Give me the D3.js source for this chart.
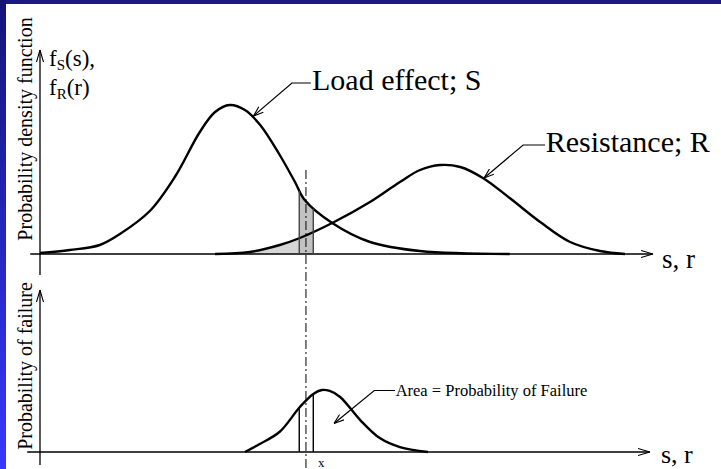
<!DOCTYPE html>
<html>
<head>
<meta charset="utf-8">
<script src="https://cdn.jsdelivr.net/npm/d3@7"></script>
<style>
  body { margin: 0; background: #fff; }
  svg { display: block; font-family: "Liberation Serif", "DejaVu Serif", serif; }
</style>
</head>
<body>
<svg id="container" width="721" height="469"></svg>
<script>
// data. x in s,r units (0-100), densities in 0-1
var loadX = [0, 4.9, 9.8, 13.1, 18.0, 22.1, 26.2, 28.7, 31.1, 33.6, 36.1, 39.3, 41.8, 43.4, 47.9, 54.1, 62.3, 77.0];
var loadY = [0.005, 0.02, 0.045, 0.10, 0.215, 0.385, 0.61, 0.71, 0.745, 0.72, 0.645, 0.495, 0.36, 0.27, 0.155, 0.06, 0.015, 0];

var resX = [28.7, 34.4, 39.3, 42.6, 47.9, 54.1, 59.0, 62.3, 65.6, 68.9, 72.6, 77.0, 82.0, 86.9, 91.8, 95.9];
var resY = [0, 0.01, 0.045, 0.08, 0.155, 0.26, 0.36, 0.42, 0.445, 0.435, 0.38, 0.28, 0.16, 0.06, 0.015, 0];

var failX = [33.6, 36.1, 39.3, 42.6, 44.8, 46.2, 47.5, 49.2, 52.5, 55.7, 59.0, 63.6];
var failY = [0, 0.055, 0.135, 0.30, 0.387, 0.413, 0.407, 0.367, 0.213, 0.093, 0.033, 0];

// design point x and the strip around it
var xPoint = 43.6;
var stripLo = 42.5, stripHi = 44.8;

// labels
var topYLabel = 'Probability density function';
var botYLabel = 'Probability of failure';
var axisLabel = 's, r';
var loadLabel = 'Load effect; S';
var resLabel = 'Resistance; R';
var areaLabel = 'Area = Probability of Failure';

var svg = d3.select('#container');
var W = 721, H = 469;

// slide frame
var defs = svg.append('defs');
var grad = defs.append('linearGradient').attr('id', 'side')
    .attr('x1', 0).attr('y1', 0).attr('x2', 0).attr('y2', 1);
grad.append('stop').attr('offset', '0%').attr('stop-color', '#14147a');
grad.append('stop').attr('offset', '100%').attr('stop-color', '#3838ff');
svg.append('rect').attr('width', W).attr('height', H).attr('fill', '#fff');
svg.append('rect').attr('width', W).attr('height', 4).attr('fill', '#1a1a80');
svg.append('rect').attr('width', 6).attr('height', H).attr('fill', 'url(#side)');

// arrow markers
defs.append('marker').attr('id', 'open')
    .attr('viewBox', '0 0 12 8').attr('refX', 12).attr('refY', 4)
    .attr('markerWidth', 12).attr('markerHeight', 8)
    .attr('markerUnits', 'userSpaceOnUse').attr('orient', 'auto')
  .append('path').attr('d', 'M0,0.5 L12,4 L0,7.5')
    .attr('fill', 'none').attr('stroke', '#000').attr('stroke-width', 1.1);
defs.append('marker').attr('id', 'lead')
    .attr('viewBox', '0 0 10 8').attr('refX', 10).attr('refY', 4)
    .attr('markerWidth', 10).attr('markerHeight', 8)
    .attr('markerUnits', 'userSpaceOnUse').attr('orient', 'auto')
  .append('path').attr('d', 'M0,0.5 L10,4 L0,7.5')
    .attr('fill', 'none').attr('stroke', '#000').attr('stroke-width', 1.1);

// scales
var x = d3.scaleLinear().domain([0, 100]).range([40, 650]);
var yTop = d3.scaleLinear().domain([0, 1]).range([254, 54]);
var yBot = d3.scaleLinear().domain([0, 1]).range([452, 302]);

var zipped = (xs, ys) => xs.map((v, i) => [v, ys[i]]);
var loadData = zipped(loadX, loadY);
var resData = zipped(resX, resY);
var failData = zipped(failX, failY);

var smooth = d3.curveCatmullRom.alpha(0.5);
var lineTop = d3.line().x(d => x(d[0])).y(d => yTop(d[1])).curve(smooth);
var lineBot = d3.line().x(d => x(d[0])).y(d => yBot(d[1])).curve(smooth);
var areaTop = d3.area().x(d => x(d[0])).y0(yTop(0)).y1(d => yTop(d[1])).curve(smooth);

// clip regions for the shaded failure area
defs.append('clipPath').attr('id', 'clipRes')
  .append('rect').attr('x', x(resX[0])).attr('y', 0)
    .attr('width', x(stripHi) - x(resX[0])).attr('height', yTop(0));
defs.append('clipPath').attr('id', 'clipStrip')
  .append('rect').attr('x', x(stripLo)).attr('y', 0)
    .attr('width', x(stripHi) - x(stripLo)).attr('height', yTop(0));

var chart = svg.append('g');

// shading
chart.append('path').datum(resData)
    .attr('d', areaTop).attr('fill', '#d6d6d6')
    .attr('clip-path', 'url(#clipRes)');
chart.append('path').datum(loadData)
    .attr('d', areaTop).attr('fill', '#c2c2c2')
    .attr('clip-path', 'url(#clipStrip)');

// find y of a drawn path at a given pixel x
function yAt(node, px) {
  var lo = 0, hi = node.getTotalLength();
  for (var k = 0; k < 40; k++) {
    var mid = (lo + hi) / 2;
    if (node.getPointAtLength(mid).x < px) lo = mid; else hi = mid;
  }
  return node.getPointAtLength(lo).y;
}

// axes, top panel
chart.append('line')
    .attr('x1', x(-1.6)).attr('x2', x(100.5))
    .attr('y1', yTop(0)).attr('y2', yTop(0))
    .attr('stroke', '#000').attr('stroke-width', 1.3).attr('marker-end', 'url(#open)');
chart.append('line')
    .attr('x1', x(0)).attr('x2', x(0))
    .attr('y1', yTop(-0.105)).attr('y2', yTop(1.02))
    .attr('stroke', '#000').attr('stroke-width', 1.3).attr('marker-end', 'url(#open)');

// axes, bottom panel
chart.append('line')
    .attr('x1', x(-2.1)).attr('x2', x(100))
    .attr('y1', yBot(0)).attr('y2', yBot(0))
    .attr('stroke', '#000').attr('stroke-width', 1.3).attr('marker-end', 'url(#open)');
chart.append('line')
    .attr('x1', x(0)).attr('x2', x(0))
    .attr('y1', yBot(-0.087)).attr('y2', yBot(1.08))
    .attr('stroke', '#000').attr('stroke-width', 1.3).attr('marker-end', 'url(#open)');

// curves
var loadPath = chart.append('path').datum(loadData)
    .attr('d', lineTop).attr('fill', 'none').attr('stroke', '#000').attr('stroke-width', 2.4);
chart.append('path').datum(resData)
    .attr('d', lineTop).attr('fill', 'none').attr('stroke', '#000').attr('stroke-width', 2.4);
var failPath = chart.append('path').datum(failData)
    .attr('d', lineBot).attr('fill', 'none').attr('stroke', '#000').attr('stroke-width', 2.4);

// strip outlines
[stripLo, stripHi].forEach(function(v) {
  chart.append('line')
      .attr('x1', x(v)).attr('x2', x(v))
      .attr('y1', yTop(0)).attr('y2', yAt(loadPath.node(), x(v)))
      .attr('stroke', '#444').attr('stroke-width', 1.4);
  chart.append('line')
      .attr('x1', x(v)).attr('x2', x(v))
      .attr('y1', yBot(0)).attr('y2', yAt(failPath.node(), x(v)))
      .attr('stroke', '#000').attr('stroke-width', 1.4);
});

// dash-dot line through the design point
chart.append('line')
    .attr('x1', x(xPoint)).attr('x2', x(xPoint))
    .attr('y1', yTop(0.42)).attr('y2', H)
    .attr('stroke', '#000').attr('stroke-width', 1)
    .attr('stroke-dasharray', '9,3,2,3');

// axis titles
svg.append('text')
    .attr('transform', `translate(32, 129) rotate(-90)`)
    .attr('text-anchor', 'middle').attr('font-size', 20)
    .text(topYLabel);
svg.append('text')
    .attr('transform', `translate(32, 366) rotate(-90)`)
    .attr('text-anchor', 'middle').attr('font-size', 20)
    .text(botYLabel);

var fs = svg.append('text').attr('x', 49).attr('y', 66).attr('font-size', 23);
fs.append('tspan').text('f');
fs.append('tspan').attr('font-size', 15).attr('dy', 4).text('S');
fs.append('tspan').attr('dy', -4).text('(s),');
var fr = svg.append('text').attr('x', 49).attr('y', 95).attr('font-size', 23);
fr.append('tspan').text('f');
fr.append('tspan').attr('font-size', 15).attr('dy', 4).text('R');
fr.append('tspan').attr('dy', -4).text('(r)');

svg.append('text').attr('x', 662).attr('y', 268).attr('font-size', 27).text(axisLabel);
svg.append('text').attr('x', 661).attr('y', 463).attr('font-size', 26).text(axisLabel);

svg.append('text').attr('x', x(xPoint) + 12).attr('y', 467).attr('font-size', 13).text('x');

// leader annotations
function leader(tx, ty, kx, ky, px, py) {
  chart.append('path')
      .attr('d', `M${tx},${ty} L${kx},${ky} L${px},${py}`)
      .attr('fill', 'none').attr('stroke', '#000').attr('stroke-width', 1.2)
      .attr('marker-end', 'url(#lead)');
}
leader(x(44.4), yTop(0.855), x(41.3), yTop(0.855), x(35.0), yTop(0.69));
svg.append('text').attr('x', x(44.6)).attr('y', yTop(0.82)).attr('font-size', 30).text(loadLabel);

leader(x(82.8), yTop(0.545), x(79.2), yTop(0.545), x(72.8), yTop(0.38));
svg.append('text').attr('x', x(82.9)).attr('y', yTop(0.51)).attr('font-size', 30).text(resLabel);

leader(x(58.2), yBot(0.41), x(54.8), yBot(0.41), x(48.2), yBot(0.19));
svg.append('text').attr('x', x(58.3)).attr('y', yBot(0.375)).attr('font-size', 16.5).text(areaLabel);
</script>
</body>
</html>
